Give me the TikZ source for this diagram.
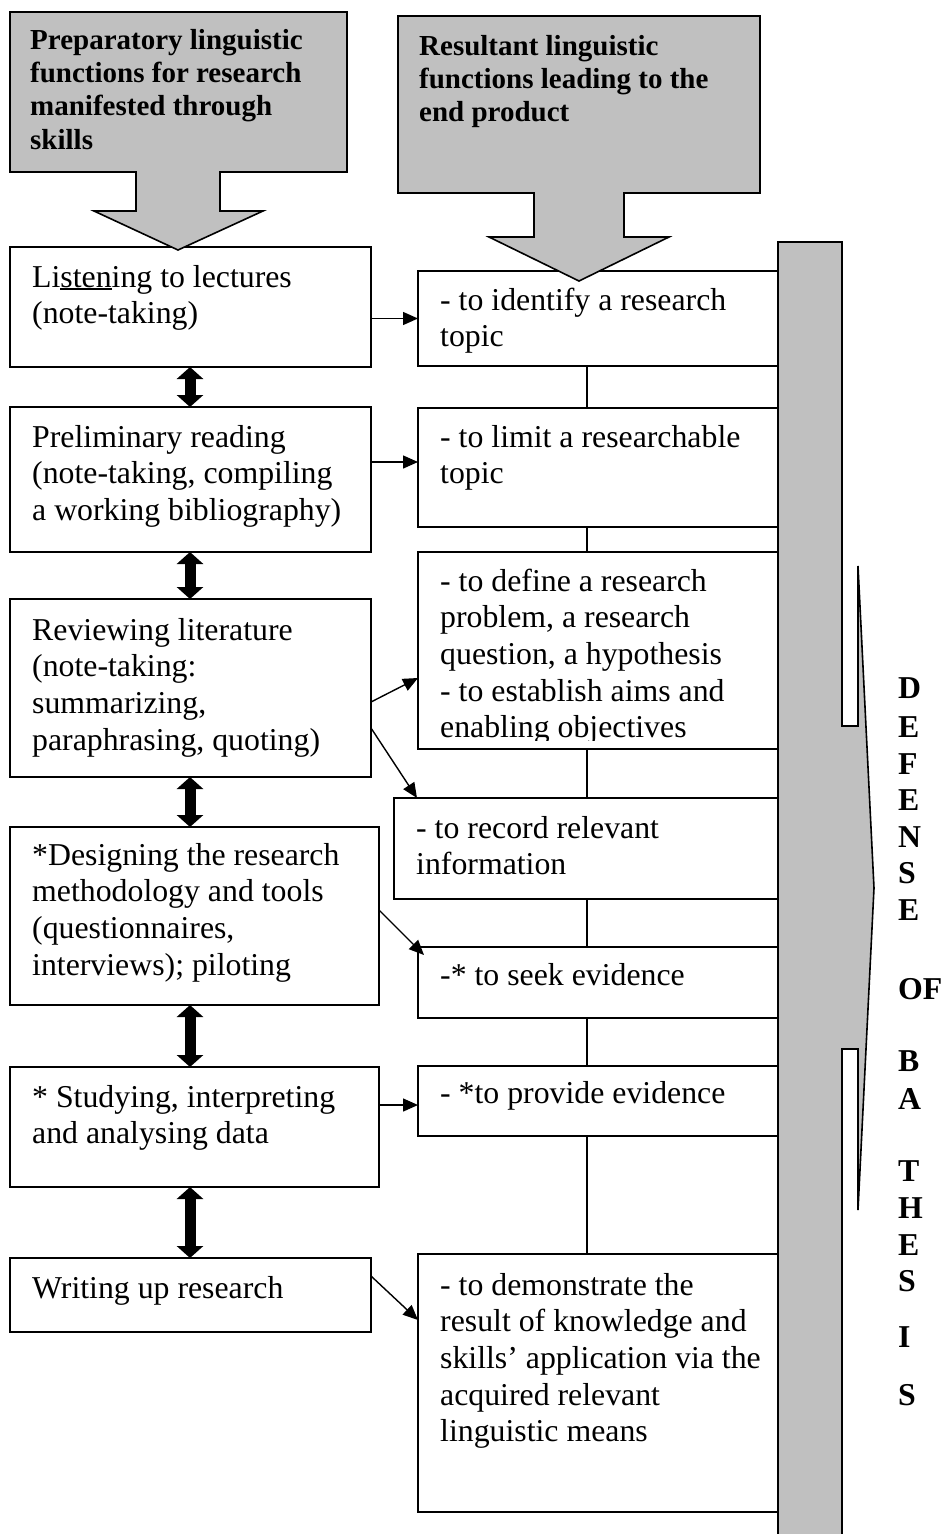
\documentclass[tikz,border=0pt]{standalone}
\usepackage{fontspec}
\setmainfont{Liberation Serif}
\usetikzlibrary{arrows.meta,calc}
\definecolor{panelgray}{RGB}{192,192,192}
% underline with a rule of visible weight
\newcommand\myul[1]{\setbox0\hbox{#1}\rlap{\rule[-3pt]{\wd0}{1.6pt}}\box0}

\begin{document}
\begin{tikzpicture}[x=1pt,y=-1pt,
  stagebox/.style={draw, line width=1.6pt, fill=white, anchor=north west, inner sep=0pt, outer sep=0pt},
  txt/.style={anchor=base west, inner sep=0pt, font=\fontsize{31.8}{36.7}\selectfont},
  hdtext/.style={anchor=base west, inner sep=0pt, font=\bfseries\fontsize{29}{33.4}\selectfont},
  vletter/.style={anchor=base west, inner sep=0pt, font=\bfseries\fontsize{31.8}{36.7}\selectfont},
  link/.style={line width=1.4pt, -{Triangle[length=15pt,width=13pt]}},
  joinline/.style={line width=1.4pt},
  dbl/.style={line width=11pt, {Triangle[length=12pt,width=26pt]}-{Triangle[length=12pt,width=26pt]}},
  banner/.style={draw, line width=1.6pt, fill=panelgray, line join=miter}
]
\useasboundingbox (0,0) rectangle (943,1534);

% vertical gray band with the right-pointing arrow
\fill[panelgray] (778,242) rectangle (842,1534);
\fill[panelgray] (842,726) -- (858,726) -- (858,566) -- (874,888) -- (858,1210) -- (858,1049) -- (842,1049) -- cycle;
\draw[line width=1.6pt] (778,1534) -- (778,242) -- (842,242) -- (842,726) -- (858,726) -- (858,566)
  -- (874,888) -- (858,1210) -- (858,1049) -- (842,1049) -- (842,1534);

% left column: skills
\node[stagebox, minimum width=361pt, minimum height=120pt] (L1) at (10,247) {};
\node[stagebox, minimum width=361pt, minimum height=145pt] (L2) at (10,407) {};
\node[stagebox, minimum width=361pt, minimum height=178pt] (L3) at (10,599) {};
\node[stagebox, minimum width=369pt, minimum height=178pt] (L4) at (10,827) {};
\node[stagebox, minimum width=369pt, minimum height=120pt] (L5) at (10,1067) {};
\node[stagebox, minimum width=361pt, minimum height=74pt] (L6) at (10,1258) {};

% middle column: functions
\node[stagebox, minimum width=360pt, minimum height=95pt] (M1) at (418,271) {};
\node[stagebox, minimum width=360pt, minimum height=119pt] (M2) at (418,408) {};
\node[stagebox, minimum width=360pt, minimum height=197pt] (M3) at (418,552) {};
\node[stagebox, minimum width=384pt, minimum height=101pt] (M4) at (394,798) {};
\node[stagebox, minimum width=360pt, minimum height=71pt] (M5) at (418,947) {};
\node[stagebox, minimum width=360pt, minimum height=70pt] (M6) at (418,1066) {};
\node[stagebox, minimum width=360pt, minimum height=258pt] (M7) at (418,1254) {};

% guide positions for the vertical connectors
\coordinate (ax) at (190,0);
\coordinate (cx) at (587,0);

% thick two-way arrows between skills
\draw[dbl] (L1.south -| ax) -- (L2.north -| ax);
\draw[dbl] (L2.south -| ax) -- (L3.north -| ax);
\draw[dbl] (L3.south -| ax) -- (L4.north -| ax);
\draw[dbl] (L4.south -| ax) -- (L5.north -| ax);
\draw[dbl] (L5.south -| ax) -- (L6.north -| ax);

% chain of functions
\draw[joinline] (M1.south -| cx) -- (M2.north -| cx);
\draw[joinline] (M2.south -| cx) -- (M3.north -| cx);
\draw[joinline] (M3.south -| cx) -- (M4.north -| cx);
\draw[joinline] (M4.south -| cx) -- (M5.north -| cx);
\draw[joinline] (M5.south -| cx) -- (M6.north -| cx);
\draw[joinline] (M6.south -| cx) -- (M7.north -| cx);

% skill -> function arrows
\draw[link] (M1.west -| L1.east) -- (M1.west);
\draw[link] ($(L2.east |- M2.west)+(0,-5.5)$) -- ($(M2.west)+(0,-5.5)$);
\draw[link] ($(L3.east)+(0,14)$) -- ($(M3.west)+(0,27.5)$);
\draw[link] ($(L3.east)+(0,40)$) -- ($(M4.north west)+(23,0)$);
\draw[link] ($(L4.east)+(0,-6)$) -- ($(M5.north west)+(6,8)$);
\draw[link] ($(L5.east |- M6.west)+(0,4)$) -- ($(M6.west)+(0,4)$);
\draw[link] ($(L6.east)+(0,-19)$) -- ($(M7.west)+(0,-63)$);

% heading banners with down arrows
\draw[banner] (10,12) -- (347,12) -- (347,172) -- (220,172) -- (220,211) -- (263,211) -- (178,250)
  -- (94,211) -- (136,211) -- (136,172) -- (10,172) -- cycle;
\draw[banner] (398,16) -- (760,16) -- (760,193) -- (624,193) -- (624,237) -- (669,237) -- (579,281)
  -- (489,237) -- (534,237) -- (534,193) -- (398,193) -- cycle;
\node[hdtext] (H1) at (30,49) {\parbox[t]{330pt}{Preparatory linguistic\\functions for research\\manifested through\\skills}};
\node[hdtext] (H2) at (419,55) {\parbox[t]{340pt}{Resultant linguistic\\functions leading to the\\end product}};

% texts of the left column
\node[txt] (tL1) at (32,287) {\parbox[t]{400pt}{Li\myul{sten}ing to lectures\\(note-taking)}};
\node[txt] (tL2) at (32,447) {\parbox[t]{400pt}{Preliminary reading\\(note-taking, compiling\\a working bibliography)}};
\node[txt] (tL3) at (32,640) {\parbox[t]{400pt}{Reviewing literature\\(note-taking:\\summarizing,\\paraphrasing, quoting)}};
\node[txt] (tL4) at (32,865) {\parbox[t]{400pt}{*Designing the research\\methodology and tools\\(questionnaires,\\interviews); piloting}};
\node[txt] (tL5) at (32,1107) {\parbox[t]{400pt}{* Studying, interpreting\\and analysing data}};
\node[txt] (tL6) at (32,1298) {\parbox[t]{400pt}{Writing up research}};

% texts of the middle column
\node[txt] (tM1) at (440,310) {\parbox[t]{400pt}{- to identify a research\\topic}};
\node[txt] (tM2) at (440,447) {\parbox[t]{400pt}{- to limit a researchable\\topic}};
\begin{scope}
  \clip (418,552) rectangle (778,740);
  \node[txt] (tM3) at (440,591) {\parbox[t]{400pt}{- to define a research\\problem, a research\\question, a hypothesis\\- to establish aims and\\enabling objectives}};
\end{scope}
\node[txt] (tM4) at (416,838) {\parbox[t]{400pt}{- to record relevant\\information}};
\node[txt] (tM5) at (440,985) {\parbox[t]{400pt}{-* to seek evidence}};
\node[txt] (tM6) at (440,1103) {\parbox[t]{400pt}{- *to provide evidence}};
\node[txt] (tM7) at (440,1295) {\parbox[t]{400pt}{- to demonstrate the\\result of knowledge and\\skills’ application via the\\acquired relevant\\linguistic means}};

% vertical caption beside the arrow
\foreach \ch/\yy [count=\i] in {D/698.5, E/737.5, F/774.5, E/810.5, N/847.5, S/883.5, E/920.5,
    OF/999.5, B/1071.5, A/1109.5, T/1181.5, H/1218.5, E/1255.5, S/1291.5, I/1347.5, S/1405.5}
  \node[vletter] (cap\i) at (898,\yy) {\ch};
\end{tikzpicture}
\end{document}
